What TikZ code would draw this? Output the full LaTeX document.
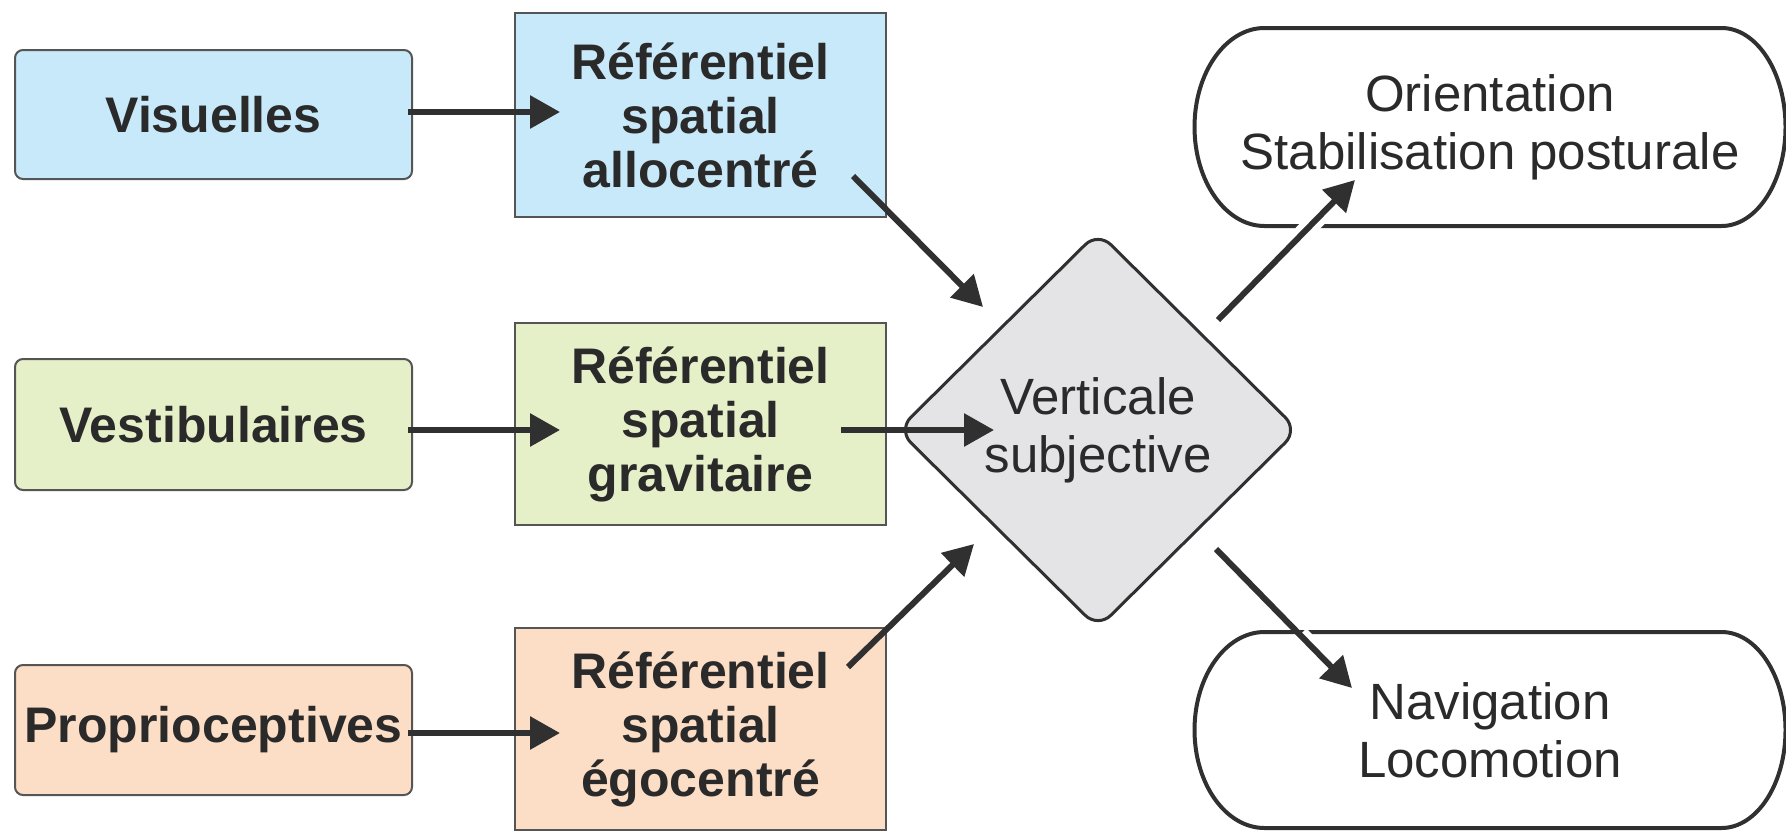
\documentclass[tikz,border=0pt]{standalone}
\usepackage{fontspec}
\setmainfont{Liberation Sans}
\usetikzlibrary{arrows.meta,shapes.geometric,calc}
\definecolor{cblue}{HTML}{C8E9F9}
\definecolor{cgreen}{HTML}{E6F0C8}
\definecolor{corange}{HTML}{FCDDC5}
\definecolor{cgray}{HTML}{E4E4E7}
\definecolor{boxline}{HTML}{555555}
\definecolor{arrowc}{HTML}{303030}
\definecolor{textc}{HTML}{2A2A2A}
\newcommand\drawstadium[4]{%
 \draw[stadiumline] ($(#1.north west)+(#2,0)$) -- ($(#1.north east)+(-#3,0)$)
  .. controls ($(#1.north east)+(-#3+0.552*#3,0)$) and ($(#1.east)+(0,-0.552*#4)$) .. (#1.east)
  .. controls ($(#1.east)+(0,0.552*#4)$) and ($(#1.south east)+(-#3+0.552*#3,0)$) .. ($(#1.south east)+(-#3,0)$)
  -- ($(#1.south west)+(#2,0)$)
  .. controls ($(#1.south west)+(#2-0.552*#2,0)$) and ($(#1.west)+(0,0.552*#4)$) .. (#1.west)
  .. controls ($(#1.west)+(0,-0.552*#4)$) and ($(#1.north west)+(#2-0.552*#2,0)$) .. ($(#1.north west)+(#2,0)$) -- cycle;}
\begin{document}
\begin{tikzpicture}[x=0.5pt,y=-0.5pt,
  boldtext/.style={font=\fontsize{25pt}{27pt}\selectfont\bfseries, text=textc, align=center},
  plaintext/.style={font=\fontsize{25.5pt}{29pt}\selectfont, text=textc, align=center},
  sensebox/.style={boldtext, draw=boxline, line width=1pt, rounded corners=4pt, minimum width=198.5pt, inner sep=0pt, outer sep=0pt},
  refbox/.style={boldtext, draw=boxline, line width=1pt, minimum width=185.5pt, minimum height=101pt, inner sep=0pt, outer sep=0pt},
  diam/.style={plaintext, diamond, aspect=1, draw=arrowc, line width=1.5pt, fill=cgray, minimum width=200pt, minimum height=198pt, inner sep=0pt, outer sep=0pt, rounded corners=9pt},
  stadnode/.style={plaintext, minimum width=295.5pt, inner sep=0pt, outer sep=0pt},
  stadiumline/.style={draw=arrowc, line width=2pt},
  arr/.style={draw=arrowc, line width=3pt, -{Triangle[length=15pt,width=16pt]}},
  halo/.style={draw=white, line width=9pt}]
\useasboundingbox (0,0) rectangle (1786,830);
\fill[white] (0,0) rectangle (1786,830);

% sensory boxes
\node[sensebox, fill=cblue, minimum height=64.5pt] (vis) at (213.5,114.5) {Visuelles};
\node[sensebox, fill=cgreen, minimum height=65.5pt] (vest) at (213.5,424.5) {Vestibulaires};
\node[sensebox, fill=corange, minimum height=65pt] (prop) at (213.5,730) {Proprioceptives};

% reference frames
\node[refbox, fill=cblue, minimum height=102pt] (allo) at (700.5,115) {Référentiel\\spatial\\allocentré};
\node[refbox, fill=cgreen] (grav) at (700.5,424) {Référentiel\\spatial\\gravitaire};
\node[refbox, fill=corange] (ego) at (700.5,729) {Référentiel\\spatial\\égocentré};

% diamond
\node[diam] (vs) at (1098,430) {Verticale\\subjective};

% outputs
\node[stadnode, minimum height=99pt] (ori) at (1490,127) {Orientation\\Stabilisation posturale};
\node[stadnode, minimum height=98pt] (nav) at (1490,730) {Navigation\\Locomotion};
\drawstadium{ori}{70}{64}{99}
\drawstadium{nav}{70}{64}{98}

% arrow end points
\coordinate (visA) at (408,112);   \coordinate (alloA) at (560,112);
\coordinate (vestA) at (408,430);  \coordinate (gravA) at (560,430);
\coordinate (propA) at (408,733);  \coordinate (egoA) at (560,733);
\coordinate (alloB) at (853,176);  \coordinate (vsA) at (983,307);
\coordinate (gravB) at (841,430);  \coordinate (vsB) at (994,430);
\coordinate (egoB) at (848,667);   \coordinate (vsC) at (974,544);
\coordinate (vsD) at (1218,320);   \coordinate (oriA) at (1355,180);
\coordinate (vsE) at (1216,549);   \coordinate (navA) at (1352,688);

\draw[arr] (visA) -- (alloA);
\draw[arr] (vestA) -- (gravA);
\draw[arr] (propA) -- (egoA);
\draw[arr] (alloB) -- (vsA);
\draw[arr] (gravB) -- (vsB);
\draw[arr] (egoB) -- (vsC);
\draw[halo, shorten <=60pt, shorten >=16pt] (vsD) -- (oriA);
\draw[halo, shorten <=60pt, shorten >=16pt] (vsE) -- (navA);
\draw[arr] (vsD) -- (oriA);
\draw[arr] (vsE) -- (navA);
\end{tikzpicture}
\end{document}
